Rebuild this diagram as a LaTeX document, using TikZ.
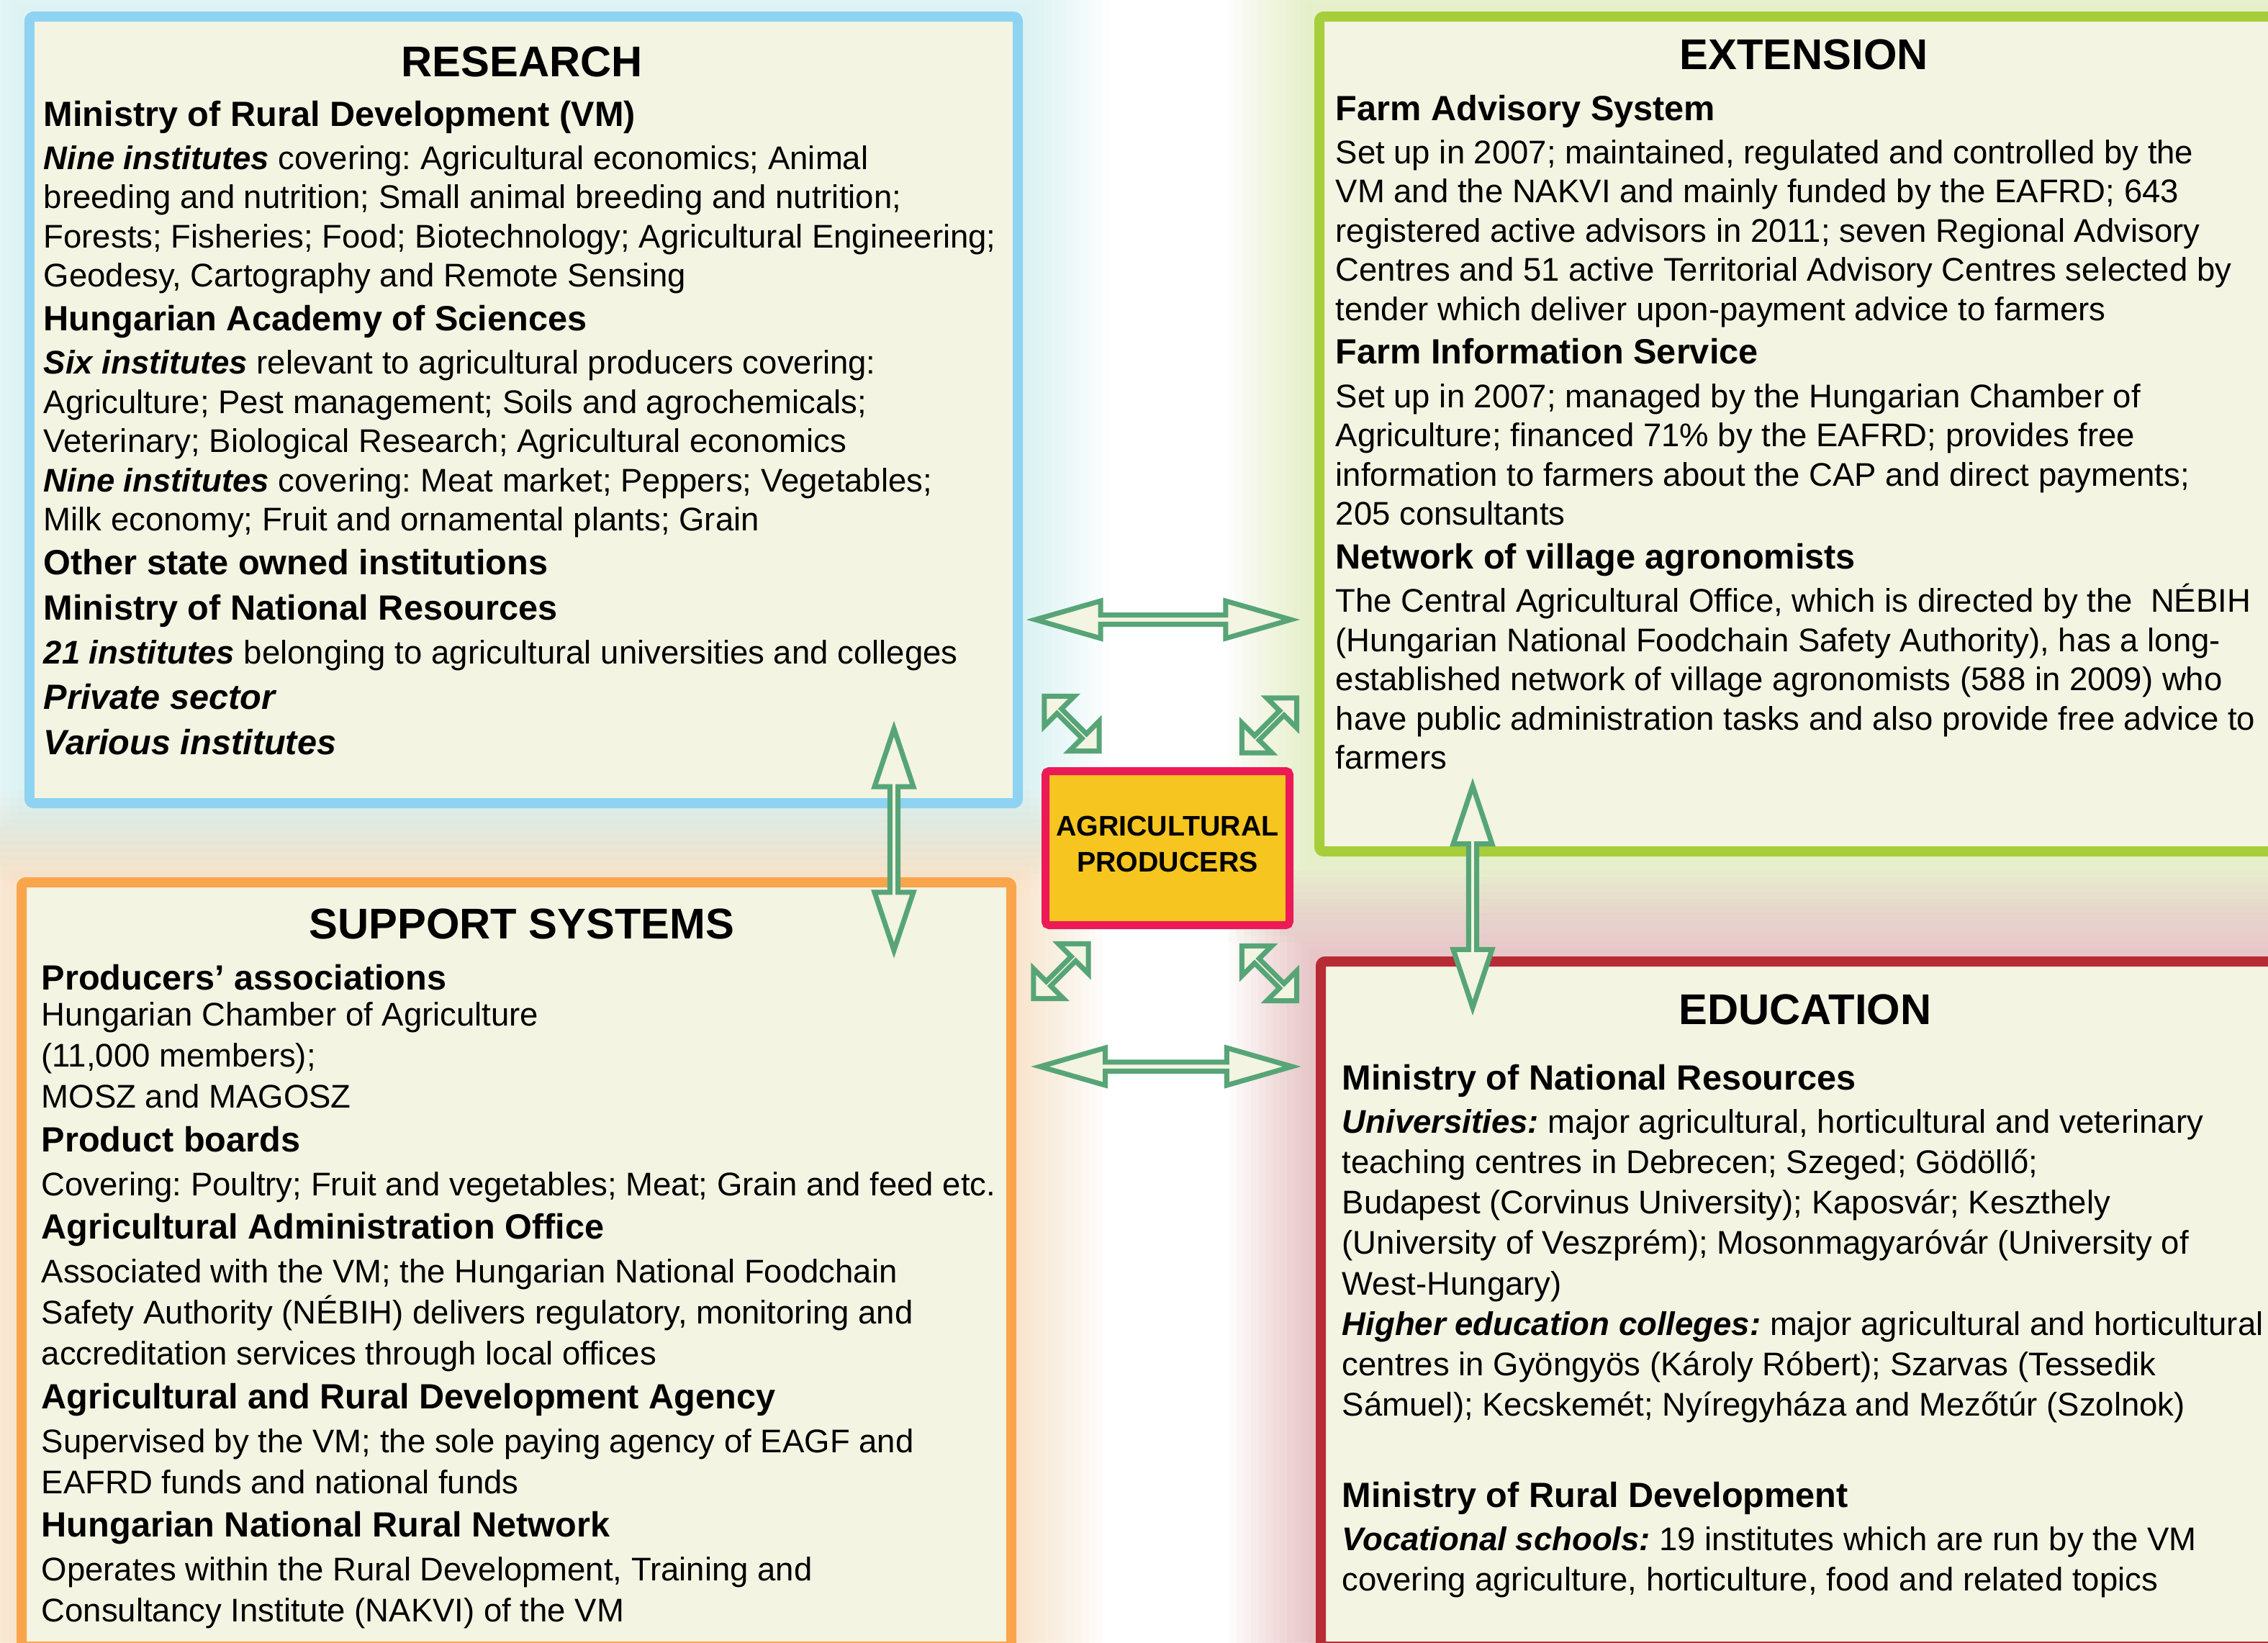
\documentclass[tikz,border=0pt]{standalone}
\usepackage{fontspec}
\setmainfont{Liberation Sans}
\usetikzlibrary{shapes.arrows,backgrounds}
\frenchspacing

\definecolor{cream}{HTML}{F3F4E2}
\definecolor{bluerim}{HTML}{8ED3F2}
\definecolor{greenrim}{HTML}{A6CE3A}
\definecolor{orangerim}{HTML}{F9A54B}
\definecolor{redrim}{HTML}{B72B35}
\definecolor{prodrim}{HTML}{EC1A57}
\definecolor{prodfill}{HTML}{F6C51F}
\definecolor{arrgreen}{HTML}{57A577}

\newcommand{\hd}[1]{{\fontsize{13.85}{15.5}\selectfont\bfseries #1}}
\newcommand{\bi}[1]{\textbf{\textit{#1}}}

\begin{document}
\begin{tikzpicture}[thick]

    \tikzstyle{panel}=[rectangle,rounded corners=0.06cm,fill=cream,
            line width=0.14cm,inner sep=0]
    \tikzstyle{boxtitle}=[inner sep=0,font=\fontsize{17}{20}\selectfont\bfseries]
    \tikzstyle{boxtext}=[align=left,inner sep=0,anchor=north west,
            font=\fontsize{12.95}{15.5}\selectfont]
    \tikzstyle{linkarr}=[double arrow,draw=arrgreen,fill=cream,
            line width=0.07cm,inner sep=0]

    \useasboundingbox (0,0) rectangle (31.51,-22.82);

    % ============================
    % Boxes
    % ============================

    \node[panel,draw=bluerim,minimum width=13.73cm,minimum height=10.93cm]
            (research) at (7.275,-5.695) {};
    \node[panel,draw=greenrim,minimum width=13.67cm,minimum height=11.6cm]
            (extension) at (25.165,-6.03) {};
    \node[panel,draw=orangerim,minimum width=13.75cm,minimum height=10.62cm]
            (support) at (7.175,-17.57) {};
    \node[panel,draw=redrim,minimum width=13.65cm,minimum height=9.52cm]
            (education) at (25.175,-18.12) {};

    \node[draw=prodrim,fill=prodfill,line width=0.11cm,rounded corners=0.05cm,
            minimum width=3.39cm,minimum height=2.14cm,align=center,inner sep=0,
            text depth=0.12cm,font=\fontsize{11.2}{14.2}\selectfont\bfseries]
            (producers) at (16.22,-11.785) {AGRICULTURAL\\PRODUCERS};

    % soft glow round the boxes
    \begin{pgfonlayer}{background}
    \fill[white] (0,0) rectangle (31.51,-22.82);
    \foreach \b/\c in {research/bluerim,extension/greenrim,
            support/orangerim,education/redrim}
        \foreach \w in {0.2,0.4,...,2.4}
            \draw[\c,opacity=0.024,line width=\w cm]
                (\b.north west) rectangle (\b.south east);
    \end{pgfonlayer}

    % ============================
    % Research
    % ============================

    \node[boxtitle] (t-res) at (7.25,-0.86) {RESEARCH};
    \node[boxtext] (x-res) at (0.60,-1.39) {%
    \hd{Ministry of Rural Development (VM)}\\[1.7pt]
    \bi{Nine institutes} covering: Agricultural economics; Animal\\
    breeding and nutrition; Small animal breeding and nutrition;\\
    Forests; Fisheries; Food; Biotechnology; Agricultural Engineering;\\
    Geodesy, Cartography and Remote Sensing\\[1.7pt]
    \hd{Hungarian Academy of Sciences}\\[1.7pt]
    \bi{Six institutes} relevant to agricultural producers covering:\\
    Agriculture; Pest management; Soils and agrochemicals;\\
    Veterinary; Biological Research; Agricultural economics\\
    \bi{Nine institutes} covering: Meat market; Peppers; Vegetables;\\
    Milk economy; Fruit and ornamental plants; Grain\\[1.7pt]
    \hd{Other state owned institutions}\\[2.6pt]
    \hd{Ministry of National Resources}\\[1.7pt]
    \bi{21 institutes} belonging to agricultural universities and colleges\\[2.4pt]
    \hd{\itshape Private sector}\\[2.6pt]
    \hd{\itshape Various institutes}};

    % ============================
    % Extension
    % ============================

    \node[boxtitle] (t-ext) at (25.06,-0.76) {EXTENSION};
    \node[boxtext] (x-ext) at (18.55,-1.31) {%
    \hd{Farm Advisory System}\\[1.7pt]
    Set up in 2007; maintained, regulated and controlled by the\\
    VM and the NAKVI and mainly funded by the EAFRD; 643\\
    registered active advisors in 2011; seven Regional Advisory\\
    Centres and 51 active Territorial Advisory Centres selected by\\
    tender which deliver upon-payment advice to farmers\\[1.7pt]
    \hd{Farm Information Service}\\[1.7pt]
    Set up in 2007; managed by the Hungarian Chamber of\\
    Agriculture; financed 71\% by the EAFRD; provides free\\
    information to farmers about the CAP and direct payments;\\
    205 consultants\\[1.7pt]
    \hd{Network of village agronomists}\\[1.7pt]
    The Central Agricultural Office, which is directed by the\ \ NÉBIH\\
    (Hungarian National Foodchain Safety Authority), has a long-\\
    established network of village agronomists (588 in 2009) who\\
    have public administration tasks and also provide free advice to\\
    farmers};

    % ============================
    % Support systems
    % ============================

    \node[boxtitle] (t-sup) at (7.25,-12.84) {SUPPORT SYSTEMS};
    \node[boxtext,font=\fontsize{12.95}{16.2}\selectfont] (x-sup) at (0.57,-13.39) {%
    \hd{Producers’ associations}\\[-1.8pt]
    Hungarian Chamber of Agriculture\\
    (11,000 members);\\
    MOSZ and MAGOSZ\\[1.1pt]
    \hd{Product boards}\\[1.1pt]
    Covering: Poultry; Fruit and vegetables; Meat; Grain and feed etc.\\[1.1pt]
    \hd{Agricultural Administration Office}\\[1.1pt]
    Associated with the VM; the Hungarian National Foodchain\\
    Safety Authority (NÉBIH) delivers regulatory, monitoring and\\
    accreditation services through local offices\\[1.1pt]
    \hd{Agricultural and Rural Development Agency}\\[1.1pt]
    Supervised by the VM; the sole paying agency of EAGF and\\
    EAFRD funds and national funds\\[1.1pt]
    \hd{Hungarian National Rural Network}\\[1.1pt]
    Operates within the Rural Development, Training and\\
    Consultancy Institute (NAKVI) of the VM};

    % ============================
    % Education
    % ============================

    \node[boxtitle] (t-edu) at (25.08,-14.03) {EDUCATION};
    \node[boxtext,font=\fontsize{12.95}{16}\selectfont] (x-edu) at (18.64,-14.78) {%
    \hd{Ministry of National Resources}\\[1.1pt]
    \bi{Universities:} major agricultural, horticultural and veterinary\\
    teaching centres in Debrecen; Szeged; Gödöllő;\\
    Budapest (Corvinus University); Kaposvár; Keszthely\\
    (University of Veszprém); Mosonmagyaróvár (University of\\
    West-Hungary)\\
    \bi{Higher education colleges:} major agricultural and horticultural\\
    centres in Gyöngyös (Károly Róbert); Szarvas (Tessedik\\
    Sámuel); Kecskemét; Nyíregyháza and Mezőtúr (Szolnok)\\[20pt]
    \hd{Ministry of Rural Development}\\[1.1pt]
    \bi{Vocational schools:} 19 institutes which are run by the VM\\
    covering agriculture, horticulture, food and related topics};

    % ============================
    % Arrows
    % ============================

    \node[linkarr,minimum height=3.55cm,minimum width=0.52cm,
            double arrow head extend=0.11cm,double arrow tip angle=32]
            (a-top) at (16.16,-8.61) {};
    \node[linkarr,minimum height=3.5cm,minimum width=0.52cm,
            double arrow head extend=0.11cm,double arrow tip angle=32]
            (a-bot) at (16.20,-14.82) {};
    \node[linkarr,rotate=90,minimum height=3.08cm,minimum width=0.54cm,
            double arrow head extend=0.13cm,double arrow tip angle=37]
            (a-left) at (12.42,-11.665) {};
    \node[linkarr,rotate=90,minimum height=3.08cm,minimum width=0.54cm,
            double arrow head extend=0.13cm,double arrow tip angle=37]
            (a-right) at (20.46,-12.46) {};

    \node[linkarr,rotate=-45,minimum height=1.08cm,minimum width=0.59cm,
            double arrow head extend=0.2cm] (a-ul) at (14.89,-10.055) {};
    \node[linkarr,rotate=45,minimum height=1.08cm,minimum width=0.59cm,
            double arrow head extend=0.2cm] (a-ur) at (17.635,-10.08) {};
    \node[linkarr,rotate=45,minimum height=1.08cm,minimum width=0.59cm,
            double arrow head extend=0.2cm] (a-ll) at (14.74,-13.495) {};
    \node[linkarr,rotate=-45,minimum height=1.08cm,minimum width=0.59cm,
            double arrow head extend=0.2cm] (a-lr) at (17.635,-13.525) {};

\end{tikzpicture}
\end{document}
